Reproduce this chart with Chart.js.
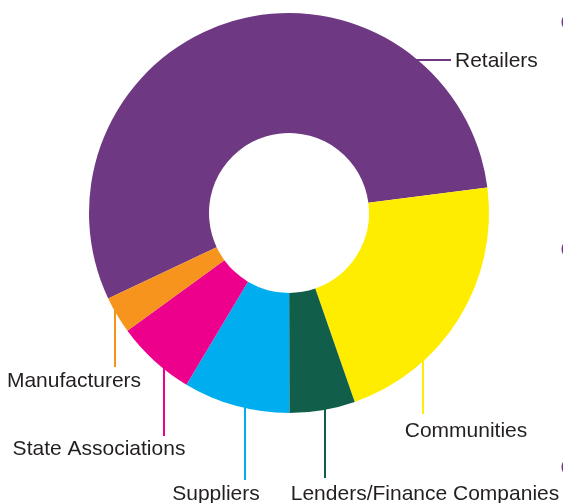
<!DOCTYPE html>
<html>
<head>
<meta charset="utf-8">
<script src="https://cdn.jsdelivr.net/npm/chart.js@4.4.0/dist/chart.umd.min.js"></script>
<style>
    html, body { margin: 0; padding: 0; background: #fff; }
    #wrap { width: 563px; height: 503px; position: relative; }
</style>
</head>
<body>
<div id="wrap"><canvas id="share-chart"></canvas></div>
<script>
// data (share of the ring, %)
const categories = ['Retailers', 'Communities', 'Lenders/Finance Companies', 'Suppliers', 'State Associations', 'Manufacturers'];
const shares = [55.0, 21.7, 5.3, 8.6, 6.4, 3.0];
const sliceColours = ['#6f3883', '#ffed00', '#115e4b', '#00aeef', '#ec008c', '#f7941d'];

// where each label and its leader line sit
const labelLayout = [
    { dir: 'h', lineAt: 60, lineEnd: 451, textX: 455, textY: 67, align: 'left' },
    { dir: 'v', lineAt: 423, lineEnd: 414, textX: 466, textY: 437, align: 'center' },
    { dir: 'v', lineAt: 325, lineEnd: 478, textX: 425, textY: 500, align: 'center' },
    { dir: 'v', lineAt: 245, lineEnd: 480, textX: 216, textY: 500, align: 'center' },
    { dir: 'v', lineAt: 164, lineEnd: 436, textX: 99, textY: 455, align: 'center' },
    { dir: 'v', lineAt: 115, lineEnd: 367, textX: 74, textY: 387, align: 'center' }
];

// leader lines + labels, starting from the ring edge
const leaderLabels = {
    id: 'leaderLabels',
    afterDraw(chart) {
        const arc = chart.getDatasetMeta(0).data[0];
        const cx = arc.x, cy = arc.y, r = arc.outerRadius;
        const ctx = chart.ctx;
        ctx.save();
        ctx.lineWidth = 2;
        labelLayout.forEach((l, i) => {
            ctx.strokeStyle = sliceColours[i];
            ctx.beginPath();
            if (l.dir === 'h') {
                const x0 = cx + Math.sqrt(Math.max(0, r * r - (l.lineAt - cy) ** 2)) - 2;
                ctx.moveTo(x0, l.lineAt);
                ctx.lineTo(l.lineEnd, l.lineAt);
            } else {
                const y0 = cy + Math.sqrt(Math.max(0, r * r - (l.lineAt - cx) ** 2)) - 2;
                ctx.moveTo(l.lineAt, y0);
                ctx.lineTo(l.lineAt, l.lineEnd);
            }
            ctx.stroke();
            ctx.fillStyle = '#231f20';
            ctx.font = '21px "Liberation Sans", Arial, sans-serif';
            ctx.textAlign = l.align;
            ctx.textBaseline = 'alphabetic';
            ctx.fillText(categories[i], l.textX, l.textY);
        });
        // little purple marks cut off at the right edge
        ctx.fillStyle = '#6f3883';
        [22, 249, 467].forEach(y => {
            ctx.beginPath();
            ctx.arc(571, y, 9.5, 0, Math.PI * 2);
            ctx.fill();
        });
        ctx.restore();
    }
};

const ctx = document.getElementById('share-chart').getContext('2d');
const shareChart = new Chart(ctx, {
    type: 'doughnut',
    data: {
        labels: categories,
        datasets: [{
            data: shares,
            backgroundColor: sliceColours,
            borderWidth: 0
        }]
    },
    options: {
        responsive: true,
        maintainAspectRatio: false,
        animation: false,
        rotation: 244.7,
        cutout: '40%',
        layout: { padding: { left: 89, top: 13, right: 74, bottom: 90 } },
        plugins: {
            legend: { display: false },
            tooltip: { enabled: false }
        }
    },
    plugins: [leaderLabels]
});
</script>
</body>
</html>
